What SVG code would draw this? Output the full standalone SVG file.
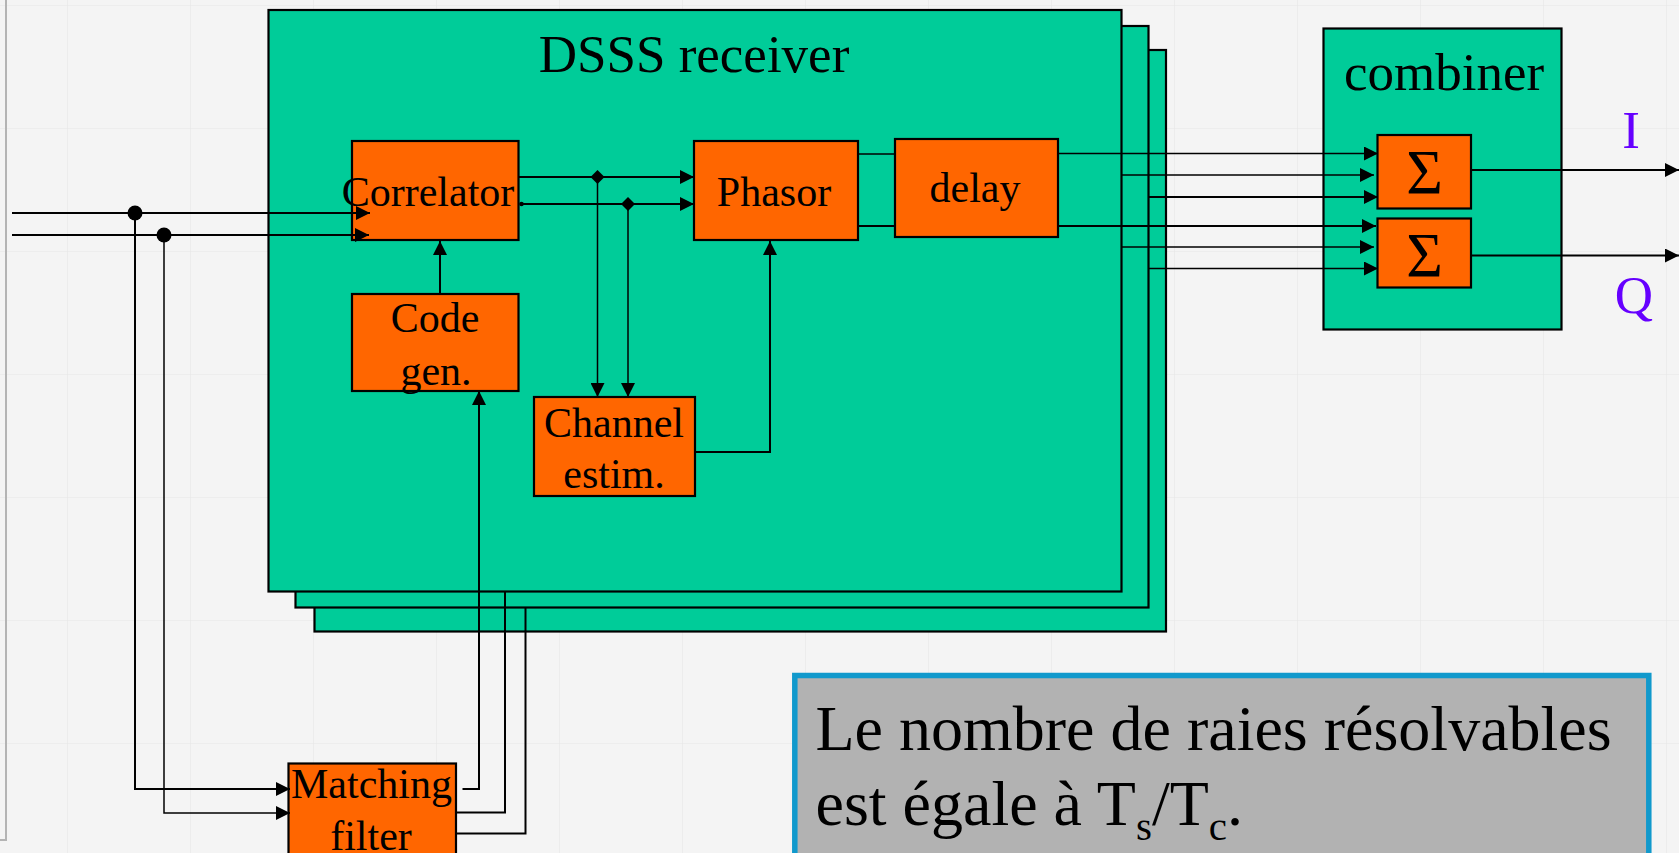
<svg xmlns="http://www.w3.org/2000/svg" width="1679" height="853" viewBox="0 0 1679 853">
  <defs>
    <pattern id="grid" x="67" y="5" width="123" height="123" patternUnits="userSpaceOnUse">
      <path d="M0,0 H123 M0,0 V123" fill="none" stroke="#e6e6e6" stroke-width="1.2"/>
    </pattern>
    <marker id="arrow" viewBox="0 0 14 14" refX="14" refY="7" markerWidth="14" markerHeight="14" markerUnits="userSpaceOnUse" orient="auto">
      <path d="M0,0 L14,7 L0,14 Z" fill="#000"/>
    </marker>
    <style>
      .txt { font-family: "Liberation Serif", "Times New Roman", serif; fill: #000; }
      .panel { fill: #00cc99; stroke: #000; stroke-width: 2.2; }
      .block { fill: #ff6600; stroke: #000; stroke-width: 2.2; }
      .lbl { font-size: 42px; text-anchor: middle; }
      .title { font-size: 53px; text-anchor: middle; }
      .sigma { font-size: 63px; text-anchor: middle; }
      .iq { font-family: "Liberation Serif", "Times New Roman", serif; font-size: 53px; fill: #6600ff; text-anchor: middle; }
      .wire { fill: none; stroke: #000; stroke-width: 2; }
      .thin { fill: none; stroke: #000; stroke-width: 1.5; }
    </style>
  </defs>

  <!-- slide background with faint grid -->
  <rect x="0" y="0" width="1679" height="853" fill="#f4f4f4"/>
  <rect x="0" y="0" width="1679" height="853" fill="url(#grid)"/>
  <path d="M0,840 H6 V0" fill="none" stroke="#b4b4b4" stroke-width="2"/>

  <!-- stacked DSSS receiver fingers (back to front) -->
  <g id="receiver-3">
    <rect class="panel" x="314.5" y="50" width="851.5" height="581.5"/>
  </g>
  <g id="receiver-2">
    <rect class="panel" x="295.5" y="26" width="853" height="581.5"/>
  </g>
  <g id="receiver-1">
    <rect class="panel" x="268.5" y="10" width="853" height="581.5"/>
    <text class="txt title" x="694" y="71.5">DSSS receiver</text>
  </g>

  <!-- combiner -->
  <g id="combiner">
    <rect class="panel" x="1323.5" y="28.5" width="238" height="301"/>
    <text class="txt title" x="1444" y="90">combiner</text>
  </g>

  <g id="correlator">
    <rect class="block" x="352" y="141" width="166.5" height="99"/>
    <text class="txt lbl" x="428" y="206">Correlator</text>
  </g>
  <g id="code-gen">
    <rect class="block" x="352" y="294" width="166.5" height="97"/>
    <text class="txt lbl" x="435" y="332">Code</text>
    <text class="txt lbl" x="436" y="385">gen.</text>
  </g>
  <g id="phasor">
    <rect class="block" x="694" y="141" width="164" height="99"/>
    <text class="txt lbl" x="774" y="206">Phasor</text>
  </g>
  <g id="delay">
    <rect class="block" x="895" y="139" width="163" height="98"/>
    <text class="txt lbl" x="975" y="202">delay</text>
  </g>
  <g id="channel-estim">
    <rect class="block" x="534" y="397" width="161" height="99"/>
    <text class="txt lbl" x="614" y="437">Channel</text>
    <text class="txt lbl" x="614" y="488">estim.</text>
  </g>
  <g id="sum-i">
    <rect class="block" x="1377.5" y="135" width="93.5" height="73.5"/>
    <text class="txt sigma" x="1424.5" y="194">Σ</text>
  </g>
  <g id="sum-q">
    <rect class="block" x="1377.5" y="218.5" width="93.5" height="69"/>
    <text class="txt sigma" x="1424.5" y="277">Σ</text>
  </g>
  <g id="matching-filter">
    <rect class="block" x="288.5" y="763.5" width="167.5" height="100"/>
    <text class="txt lbl" x="371.5" y="798">Matching</text>
    <text class="txt lbl" x="371" y="850">filter</text>
  </g>

  <g id="output-labels">
    <text class="iq" x="1631" y="148">I</text>
    <text class="iq" x="1634" y="313">Q</text>
  </g>

  <!-- connectors -->
  <g id="connectors">
    <!-- inputs -->
    <path class="wire" d="M12,213 H370" marker-end="url(#arrow)"/>
    <path class="wire" d="M12,235 H369" marker-end="url(#arrow)"/>
    <path class="wire" d="M135,213 V789 H290" marker-end="url(#arrow)"/>
    <path class="thin" d="M164,235 V813 H290" marker-end="url(#arrow)"/>
    <circle cx="135" cy="213" r="7.5" fill="#000"/>
    <circle cx="164" cy="235" r="7.5" fill="#000"/>

    <!-- code generator to correlator -->
    <path class="wire" d="M440,294 V241" marker-end="url(#arrow)"/>

    <!-- correlator to phasor and channel estimator -->
    <path class="wire" d="M518,177 H694" marker-end="url(#arrow)"/>
    <path class="wire" d="M521,204 H694" marker-end="url(#arrow)"/>
    <circle cx="521.5" cy="204" r="2.3" fill="#000"/>
    <path class="thin" d="M597.5,177 V397" marker-end="url(#arrow)"/>
    <path class="thin" d="M628,204 V397" marker-end="url(#arrow)"/>
    <path d="M597.5,170 L604.5,177 L597.5,184 L590.5,177 Z" fill="#000"/>
    <path d="M628,197 L635,204 L628,211 L621,204 Z" fill="#000"/>

    <!-- channel estimator to phasor -->
    <path class="wire" d="M695,452 H770 V241" marker-end="url(#arrow)"/>

    <!-- phasor to delay -->
    <path class="thin" d="M858,154 H895"/>
    <path class="wire" d="M858,226 H895"/>

    <!-- finger outputs to combiner -->
    <path class="thin" d="M1058,153.5 H1378" marker-end="url(#arrow)"/>
    <path class="thin" d="M1121.5,175 H1374" marker-end="url(#arrow)"/>
    <path class="wire" d="M1148.5,197 H1378" marker-end="url(#arrow)"/>
    <path class="wire" d="M1058,226 H1376" marker-end="url(#arrow)"/>
    <path class="thin" d="M1121.5,247 H1374" marker-end="url(#arrow)"/>
    <path class="thin" d="M1148.5,268.5 H1378" marker-end="url(#arrow)"/>

    <!-- combiner outputs -->
    <path class="wire" d="M1471,170 H1679" marker-end="url(#arrow)"/>
    <path class="wire" d="M1471,255.5 H1679" marker-end="url(#arrow)"/>

    <!-- matching filter outputs -->
    <path class="wire" d="M462.5,789 H479 V391" marker-end="url(#arrow)"/>
    <path class="wire" d="M456,812.5 H505 V591.5"/>
    <path class="wire" d="M456,833.5 H525.5 V607.5"/>
  </g>

  <!-- note box -->
  <g id="note">
    <rect x="794.8" y="675.5" width="854" height="190" fill="#b2b2b2" stroke="#1199cc" stroke-width="5.5"/>
    <text class="txt" x="815.5" y="750" font-size="64">Le nombre de raies résolvables</text>
    <text class="txt" x="815.5" y="825" font-size="64">est égale à T<tspan font-size="41" dy="15">s</tspan><tspan dy="-15">/T</tspan><tspan font-size="41" dy="15">c</tspan><tspan dy="-15">.</tspan></text>
  </g>
</svg>
